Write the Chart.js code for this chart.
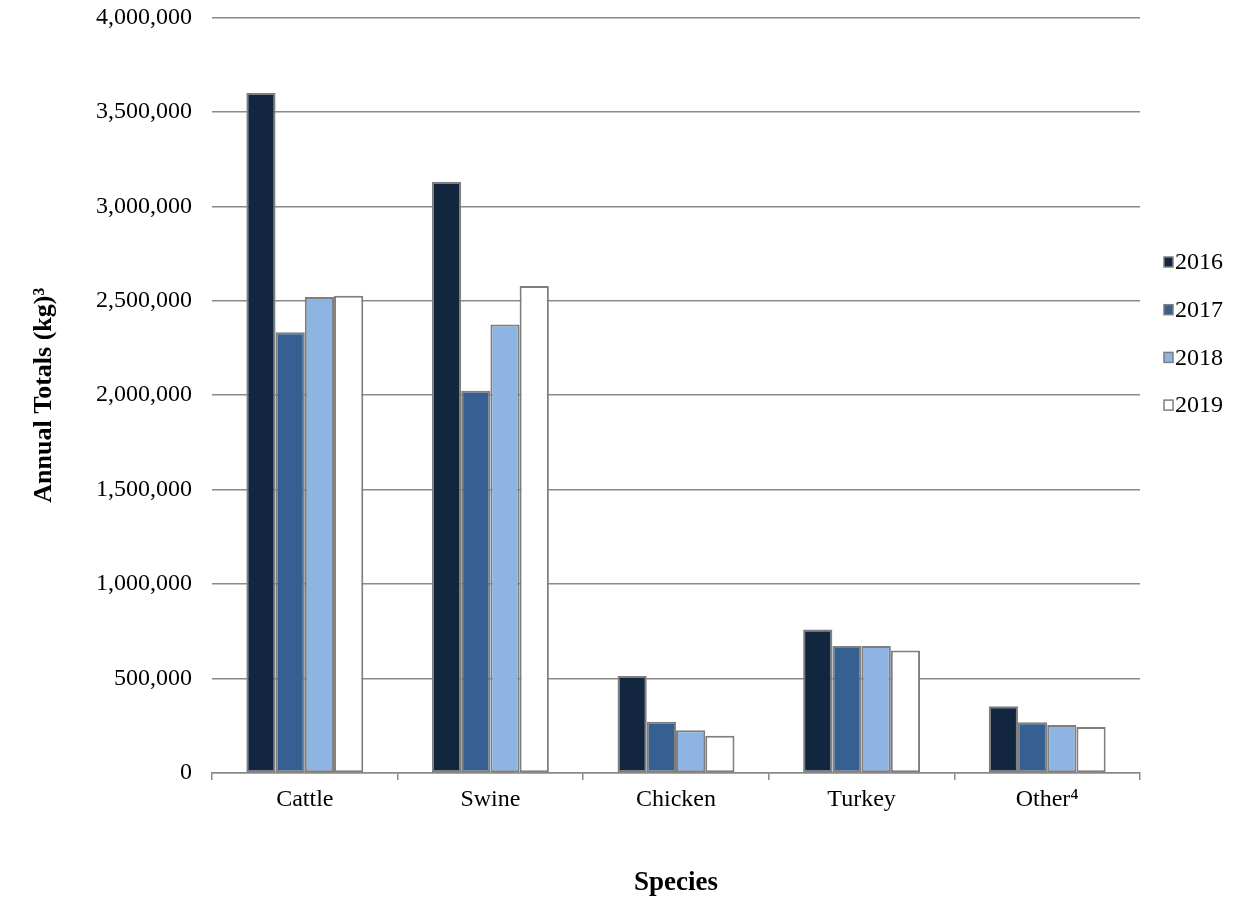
<!DOCTYPE html>
<html>
<head>
<meta charset="utf-8">
<script src="https://cdn.jsdelivr.net/npm/chart.js@4/dist/chart.umd.min.js"></script>
<style>
  html, body { margin: 0; padding: 0; background: #fff; }
  #wrap { width: 1240px; height: 924px; }
</style>
</head>
<body>
<div id="wrap"><canvas id="speciesChart" width="1240" height="924"></canvas></div>
<script>
const species = ['Cattle', 'Swine', 'Chicken', 'Turkey', 'Other\u2074'];
const years = ['2016', '2017', '2018', '2019'];
const totals2016 = [3600000, 3130000, 513000, 760000, 354000];
const totals2017 = [2333000, 2023000, 271000, 672000, 268000];
const totals2018 = [2520000, 2374000, 226000, 672000, 254000];
const totals2019 = [2527000, 2578000, 197000, 649000, 243000];
const yTicks = [0, 500000, 1000000, 1500000, 2000000, 2500000, 3000000, 3500000, 4000000];

const colors = ['#12263f', '#366092', '#8eb4e3', '#ffffff'];
const font = 'Liberation Serif, Times New Roman, serif';

// legend drawn by hand so it sits where the original one does
const sideLegend = {
    id: 'sideLegend',
    afterDraw(chart) {
        const ctx = chart.ctx;
        ctx.save();
        ctx.font = '24px ' + font;
        ctx.textBaseline = 'middle';
        chart.data.datasets.forEach((ds, i) => {
            const y = 262 + i * 47.7;
            ctx.fillStyle = ds.backgroundColor;
            ctx.fillRect(1164, y - 5, 9, 10);
            ctx.strokeStyle = '#7f7f7f';
            ctx.lineWidth = 1.5;
            ctx.strokeRect(1164, y - 5, 9, 10);
            ctx.fillStyle = '#000';
            ctx.fillText(ds.label, 1175, y + 1);
        });
        ctx.restore();
    }
};

const datasets = [totals2016, totals2017, totals2018, totals2019].map((vals, i) => ({
    label: years[i],
    data: vals,
    backgroundColor: colors[i],
    borderColor: '#7f7f7f',
    borderWidth: 2,
    borderSkipped: false,
    categoryPercentage: 0.63,
    barPercentage: 1.0
}));

new Chart(document.getElementById('speciesChart'), {
    type: 'bar',
    data: { labels: species, datasets: datasets },
    plugins: [sideLegend],
    options: {
        responsive: false,
        animation: false,
        layout: { padding: { top: 0, right: 100, left: 0, bottom: 0 } },
        plugins: {
            legend: { display: false },
            tooltip: { enabled: false }
        },
        scales: {
            x: {
                afterFit: (s) => { s.height = 151; },
                grid: { display: true, drawOnChartArea: false, drawTicks: true, tickLength: 7, color: '#8a8a8a', lineWidth: 1.5, offset: true },
                border: { display: true, color: '#8a8a8a', width: 1.5 },
                ticks: { color: '#000', font: { family: font, size: 24 }, padding: 5, maxRotation: 0 },
                title: { display: true, text: 'Species', color: '#000', font: { family: font, size: 27, weight: 'bold' }, padding: { top: 0, bottom: 25 } }
            },
            y: {
                min: 0,
                max: 4000000,
                afterFit: (s) => { s.width = 212; },
                afterBuildTicks: (s) => { s.ticks = yTicks.map(v => ({ value: v })); },
                grid: { color: '#8a8a8a', lineWidth: 1.5, drawTicks: true, tickLength: 17, tickColor: 'rgba(0,0,0,0)' },
                border: { display: false },
                ticks: {
                    color: '#000',
                    font: { family: font, size: 24 },
                    padding: 3,
                    callback: (v) => v.toLocaleString('en-US')
                },
                title: { display: true, text: 'Annual Totals (kg)\u00b3', color: '#000', font: { family: font, size: 26, weight: 'bold' }, padding: { top: 29, bottom: 0 } }
            }
        }
    }
});
</script>
</body>
</html>
